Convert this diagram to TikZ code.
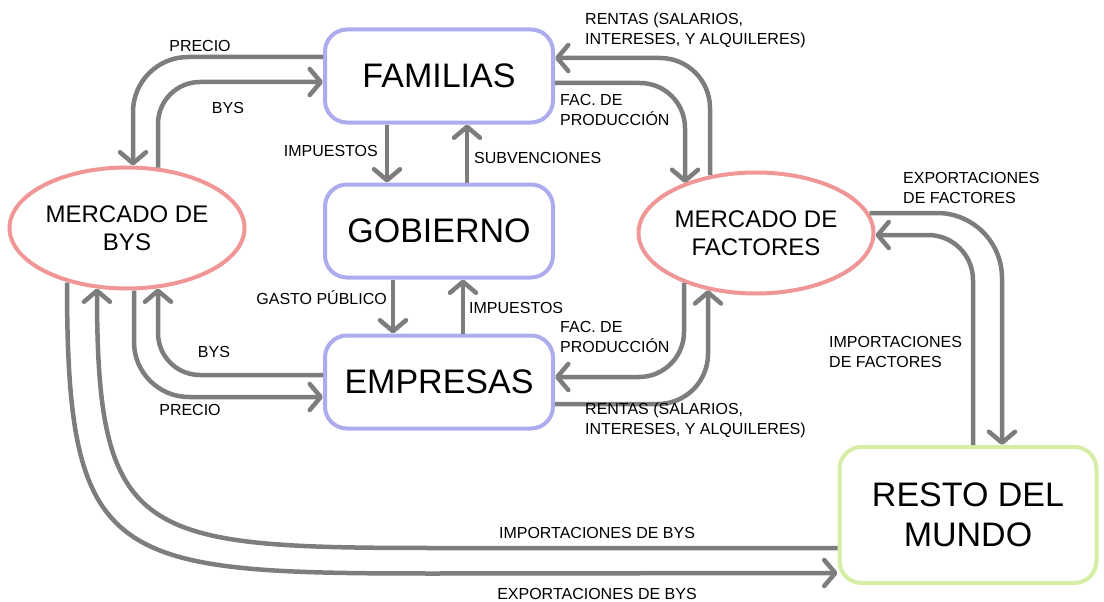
\documentclass[tikz,border=0pt]{standalone}
\usepackage{fontspec}
\setmainfont{Liberation Sans}
\usepackage{tikz}
\usetikzlibrary{shapes.geometric}
\usetikzlibrary{arrows.meta}

\definecolor{boxblue}{RGB}{172,172,238}
\definecolor{ovalred}{RGB}{240,150,150}
\definecolor{worldgreen}{RGB}{214,238,164}
\definecolor{flowgray}{RGB}{125,125,125}

\tikzset{
  agent/.style={draw=boxblue, line width=4pt, rounded corners=22pt, fill=white,
    minimum width=228pt, minimum height=93pt, inner sep=0pt,
    font=\fontsize{34}{40}\selectfont},
  market/.style={ellipse, draw=ovalred, line width=4pt, fill=white,
    minimum width=235pt, minimum height=121pt, inner sep=0pt, align=center,
    font=\fontsize{24}{28}\selectfont},
  world/.style={draw=worldgreen, line width=4pt, rounded corners=22pt, fill=white,
    minimum width=257pt, minimum height=136pt, inner sep=0pt, align=center,
    font=\fontsize{34}{40}\selectfont},
  flow/.style={draw=flowgray, line width=4.5pt,
    -{Straight Barb[length=11pt,width=26pt,round]}},
  lbl/.style={font=\fontsize{16}{20}\selectfont, align=left, inner sep=0pt},
}

\begin{document}
\begin{tikzpicture}[x=1pt,y=-1pt]
  \useasboundingbox (0,0) rectangle (1104,602);

  \node[agent] (fam) at (439,76) {FAMILIAS};
  \node[agent] (gob) at (439,231) {GOBIERNO};
  \node[agent] (emp) at (439,382) {EMPRESAS};
  \node[market] (mbys) at (127,228) {MERCADO DE\\BYS};
  \node[market] (mfac) at (756,233) {MERCADO DE\\FACTORES};
  \node[world] (rdm) at (968,515) {RESTO DEL\\MUNDO};

  \draw[flow, rounded corners=55pt] ([yshift=19pt]fam.west) -| ([xshift=6pt]mbys.north);
  \draw[flow, rounded corners=42pt] ([xshift=31pt,yshift=-2pt]mbys.north) |- ([yshift=-6pt]fam.west);
  \draw[flow, rounded corners=42pt] ([yshift=7pt]emp.west) -| ([xshift=31pt,yshift=2pt]mbys.south);
  \draw[flow, rounded corners=55pt] ([xshift=7pt]mbys.south) |- ([yshift=-15pt]emp.west);
  \draw[flow] ([xshift=-60pt,yshift=8pt]mbys.south) .. controls +(0,283) and +(-327,0) .. ++(370,291)
    -- ([yshift=-58pt]rdm.west);
  \draw[flow] ([yshift=-33pt]rdm.west) -- ++(-400,0) .. controls +(-297,0) and +(0,251)
    .. ([xshift=-30pt,yshift=2pt]mbys.south);

  \draw[flow, rounded corners=50pt] ([xshift=-46pt,yshift=-4.5pt]mfac.north) |- ([yshift=18pt]fam.east);
  \draw[flow, rounded corners=45pt] ([yshift=-7pt]fam.east) -| ([xshift=-71pt,yshift=-12.5pt]mfac.north);
  \draw[flow, rounded corners=45pt] ([xshift=-72pt,yshift=12.7pt]mfac.south) |- ([yshift=5pt]emp.east);
  \draw[flow, rounded corners=50pt] ([yshift=-22pt]emp.east) -| ([xshift=-48pt,yshift=5.3pt]mfac.south);

  \draw[flow, rounded corners=65pt] ([xshift=-6pt,yshift=20pt]mfac.east) -| ([xshift=34pt]rdm.north);
  \draw[flow, rounded corners=45pt] ([xshift=5pt]rdm.north) |- ([yshift=-2pt]mfac.east);

  \draw[flow] ([xshift=-52pt]fam.south) -- ([xshift=-52pt]gob.north);
  \draw[flow] ([xshift=28pt]gob.north) -- ([xshift=28pt]fam.south);
  \draw[flow] ([xshift=-46pt]gob.south) -- ([xshift=-46pt]emp.north);
  \draw[flow] ([xshift=24pt]emp.north) -- ([xshift=24pt]gob.south);

  \node[lbl] (precio1) at (200,46) {PRECIO};
  \node[lbl] (bys1) at (228,108) {BYS};
  \node[lbl] (bys2) at (214,352) {BYS};
  \node[lbl] (precio2) at (190,410) {PRECIO};
  \node[lbl, anchor=east] (imp1) at (378,151) {IMPUESTOS};
  \node[lbl, anchor=west] (subv) at (474,158) {SUBVENCIONES};
  \node[lbl, anchor=east] (gasto) at (387,298) {GASTO PÚBLICO};
  \node[lbl, anchor=west] (imp2) at (469,308) {IMPUESTOS};
  \node[lbl, anchor=west] (rentas1) at (585,30) {RENTAS (SALARIOS,\\INTERESES, Y ALQUILERES)};
  \node[lbl, anchor=west] (fac1) at (560,110) {FAC. DE\\PRODUCCIÓN};
  \node[lbl, anchor=west] (fac2) at (560,337) {FAC. DE\\PRODUCCIÓN};
  \node[lbl, anchor=west] (rentas2) at (585,420) {RENTAS (SALARIOS,\\INTERESES, Y ALQUILERES)};
  \node[lbl, anchor=west] (expfac) at (903,188) {EXPORTACIONES\\DE FACTORES};
  \node[lbl, anchor=west] (impfac) at (829,352) {IMPORTACIONES\\DE FACTORES};
  \node[lbl] (impbys) at (597,533) {IMPORTACIONES DE BYS};
  \node[lbl] (expbys) at (597,594) {EXPORTACIONES DE BYS};
\end{tikzpicture}
\end{document}
